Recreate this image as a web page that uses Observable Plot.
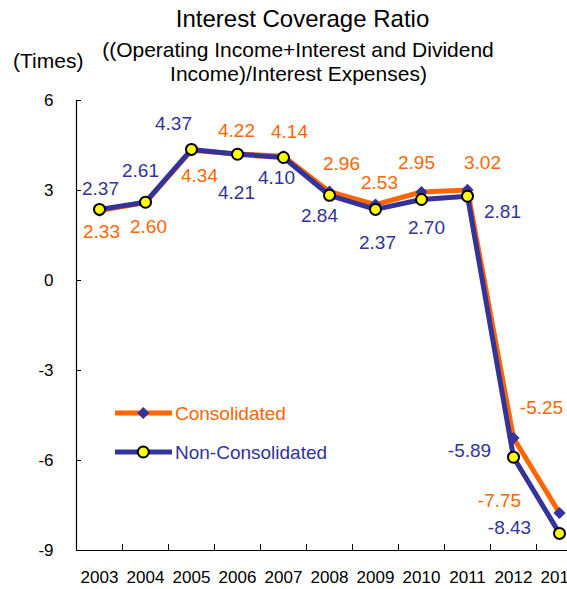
<!DOCTYPE html>
<html><head><meta charset="utf-8">
<script src="https://cdn.jsdelivr.net/npm/d3@7"></script>
<script src="https://cdn.jsdelivr.net/npm/@observablehq/plot@0.6"></script>
<style>
body{margin:0;background:#fff;}
#wrap{position:relative;width:567px;height:589px;overflow:hidden;font-family:"Liberation Sans",Arial,sans-serif;color:#000;}
.t{position:absolute;white-space:nowrap;line-height:1;}
#chart{position:absolute;left:0;top:90px;width:582px;}
#chart svg{max-width:none !important;}
#legend{position:absolute;left:110px;top:398px;}
</style></head><body>
<div id="wrap">
  <div class="t" style="font-size:24px;left:0;width:605px;text-align:center;top:6.7px">Interest Coverage Ratio</div>
  <div class="t" style="font-size:21px;left:0;width:596px;text-align:center;top:38.5px">((Operating Income+Interest and Dividend</div>
  <div class="t" style="font-size:21px;left:0;width:597px;text-align:center;top:62.5px">Income)/Interest Expenses)</div>
  <div class="t" style="font-size:21px;left:13px;top:50.2px">(Times)</div>
  <div id="chart"></div>
  <div id="legend"></div>
</div>
<script>
// ---- data ----
const years = [2003, 2004, 2005, 2006, 2007, 2008, 2009, 2010, 2011, 2012, 2013];
const consolidated = [2.33, 2.60, 4.34, 4.22, 4.14, 2.96, 2.53, 2.95, 3.02, -5.25, -7.75];
const nonConsolidated = [2.37, 2.61, 4.37, 4.21, 4.10, 2.84, 2.37, 2.70, 2.81, -5.89, -8.43];
const yTicks = [-9, -6, -3, 0, 3, 6];
const seriesNames = ["Consolidated", "Non-Consolidated"];

// ---- layout (label placement offsets, px) ----
const consLabelOffset = [[2,21],[3,24],[8,26],[-1,-23],[6,-24],[12,-28],[4,-22],[-5,-29],[15,-27],[28,-30],[-60,-12]];
const nonLabelOffset = [[1,-20],[-5,-31],[-18,-25],[-1,39],[-7,20],[-10,21],[2,34],[5,28],[35,16],[-44,-6],[-50,-5]];

const ORANGE = "#FF6600", NAVY = "#333399", YELLOW = "#FFFF00";
const FONT = '"Liberation Sans", Arial, sans-serif';

const consData = years.map((year, i) => ({year, value: consolidated[i]}));
const nonData = years.map((year, i) => ({year, value: nonConsolidated[i]}));
const bounds = [...years.map(y => y - 0.5), years[years.length - 1] + 0.5];
const fmt = v => v.toFixed(2);

const labelMarks = (data, offsets, color) => data.map((d, i) =>
  Plot.text([d], {x: "year", y: "value", text: d => fmt(d.value), fill: color,
    fontSize: 19, dx: offsets[i][0], dy: offsets[i][1]}));

const chart = Plot.plot({
  width: 582, height: 499,
  marginLeft: 76, marginRight: 0, marginTop: 10, marginBottom: 39,
  x: {type: "linear", domain: [bounds[0], bounds[bounds.length - 1]]},
  y: {domain: [yTicks[0], yTicks[yTicks.length - 1]]},
  style: {fontFamily: FONT, fontSize: "17px", color: "#000", background: "transparent", overflow: "visible", maxWidth: "none"},
  marks: [
    Plot.axisY({ticks: yTicks, tickSize: -5, tickPadding: 28, tickFormat: d => String(d), fontSize: 17, label: null, stroke: "#000"}),
    Plot.axisX({ticks: bounds, tickSize: -6, tickFormat: () => "", label: null, stroke: "#000"}),
    Plot.axisX({ticks: years, tickSize: 0, tickPadding: 20, tickFormat: d => String(d), fontSize: 17, label: null}),
    Plot.ruleX([bounds[0]], {stroke: "#000", strokeWidth: 1.2}),
    Plot.ruleY([yTicks[0]], {stroke: "#000", strokeWidth: 1.2}),
    Plot.line(consData, {x: "year", y: "value", stroke: ORANGE, strokeWidth: 5}),
    Plot.dot(consData, {x: "year", y: "value", symbol: "diamond2", r: 5.5, fill: NAVY, stroke: "none"}),
    Plot.line(nonData, {x: "year", y: "value", stroke: NAVY, strokeWidth: 5}),
    Plot.dot(nonData, {x: "year", y: "value", r: 5.5, fill: YELLOW, stroke: "#000", strokeWidth: 2}),
    ...labelMarks(consData, consLabelOffset, ORANGE),
    ...labelMarks(nonData, nonLabelOffset, NAVY)
  ]
});
document.getElementById("chart").appendChild(chart);

// ---- legend ----
const lg = d3.select("#legend").append("svg").attr("width", 260).attr("height", 70)
  .style("font-family", FONT).style("overflow", "visible");
const rows = [
  {name: seriesNames[0], color: ORANGE, y: 15, sym: "diamond"},
  {name: seriesNames[1], color: NAVY, y: 54, sym: "circle"}
];
rows.forEach(r => {
  lg.append("line").attr("x1", 5).attr("x2", 62).attr("y1", r.y).attr("y2", r.y)
    .attr("stroke", r.color).attr("stroke-width", 5);
  if (r.sym === "diamond") {
    lg.append("path").attr("d", d3.symbol(d3.symbolDiamond2, Math.PI * 5.5 * 5.5)())
      .attr("transform", `translate(33.3,${r.y})`).attr("fill", NAVY);
  } else {
    lg.append("circle").attr("cx", 33.3).attr("cy", r.y).attr("r", 5.5)
      .attr("fill", YELLOW).attr("stroke", "#000").attr("stroke-width", 2);
  }
  lg.append("text").attr("x", 65).attr("y", r.y + 6.8).attr("font-size", 19)
    .attr("fill", r.color).text(r.name);
});
</script>
</body></html>
